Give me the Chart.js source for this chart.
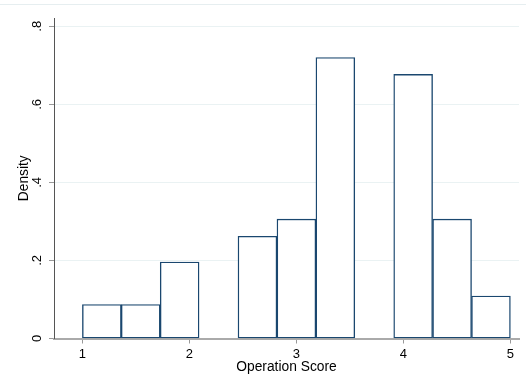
<!DOCTYPE html>
<html>
<head>
<meta charset="utf-8">
<title>Operation Score histogram</title>
<script src="https://cdn.jsdelivr.net/npm/chart.js@4"></script>
<style>
  html, body { margin: 0; padding: 0; background: #fff; }
  canvas { display: block; }
</style>
</head>
<body>
<canvas id="hist" width="526" height="381"></canvas>
<script>
// histogram bins (width 4/11) and their densities
const binCenters = [1.182, 1.545, 1.909, 2.273, 2.636, 3.0, 3.364, 3.727, 4.091, 4.455, 4.818];
const densities = [0.087, 0.087, 0.196, 0, 0.262, 0.306, 0.720, 0, 0.677, 0.306, 0.109];

// axis ticks
const xTicks = [1, 2, 3, 4, 5];
const yTicks = [0, 0.2, 0.4, 0.6, 0.8];
const yTickLabels = ['0', '.2', '.4', '.6', '.8'];

const FONT = '"Liberation Sans", Arial, Helvetica, sans-serif';

// y tick labels are vertical, so draw them by hand
const yLabels = {
  id: 'yLabels',
  beforeDraw(chart) {
    const ctx = chart.ctx;
    ctx.save();
    ctx.strokeStyle = '#e6eef0';
    ctx.lineWidth = 1;
    ctx.beginPath();
    ctx.moveTo(0, 4.5);
    ctx.lineTo(526, 4.5);
    ctx.stroke();
    ctx.restore();
  },
  afterDraw(chart) {
    const ctx = chart.ctx;
    const y = chart.scales.y;
    ctx.save();
    ctx.fillStyle = '#000';
    ctx.font = '13px ' + FONT;
    ctx.textAlign = 'center';
    ctx.textBaseline = 'middle';
    yTicks.forEach((v, i) => {
      ctx.save();
      ctx.translate(37, y.getPixelForValue(v));
      ctx.rotate(-Math.PI / 2);
      ctx.fillText(yTickLabels[i], 0, 0);
      ctx.restore();
    });
    ctx.restore();
  }
};

new Chart(document.getElementById('hist'), {
  type: 'bar',
  data: {
    datasets: [
      {
        label: 'Density',
        data: binCenters.map((x, i) => ({ x: x, y: densities[i] })),
        backgroundColor: '#ffffff',
        borderColor: '#1a476f',
        borderWidth: 1.4,
        borderSkipped: false,
        barPercentage: 1,
        categoryPercentage: 1,
      },
    ],
  },
  options: {
    responsive: false,
    animation: false,
    layout: { padding: { left: 12, right: 7, top: 18, bottom: 2 } },
    plugins: {
      legend: { display: false },
      tooltip: { enabled: false },
    },
    scales: {
      x: {
        type: 'linear',
        min: 0.735,
        max: 5.08,
        offset: false,
        afterBuildTicks: s => { s.ticks = xTicks.map(v => ({ value: v })); },
        afterFit: s => { s.height = 40.5; },
        grid: {
          offset: false,
          drawOnChartArea: false,
          drawTicks: true,
          tickLength: 5,
          tickColor: '#999',
          tickWidth: 1,
        },
        border: { color: '#aaaaaa', width: 2 },
        ticks: {
          color: '#000',
          padding: 3,
          maxRotation: 0,
          font: { family: FONT, size: 13 },
        },
        title: {
          display: true,
          text: 'Operation Score',
          color: '#000',
          padding: { top: 4, bottom: 4 },
          font: { family: FONT, size: 13.8 },
        },
      },
      y: {
        min: 0,
        max: 0.8213,
        afterBuildTicks: s => { s.ticks = yTicks.map(v => ({ value: v })); },
        afterFit: s => { s.width = 42; },
        grid: {
          color: '#eaf2f3',
          lineWidth: 1,
          drawTicks: true,
          tickLength: 5,
          tickColor: '#999',
        },
        border: { color: '#555', width: 1 },
        ticks: { display: false },
        title: {
          display: true,
          text: 'Density',
          color: '#000',
          padding: { top: 4, bottom: 4 },
          font: { family: FONT, size: 13.8 },
        },
      },
    },
  },
  plugins: [yLabels],
});
</script>
</body>
</html>
